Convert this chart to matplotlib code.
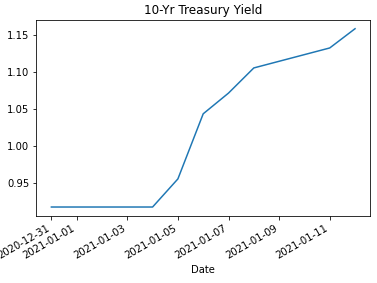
import matplotlib
matplotlib.use('Agg')
import matplotlib.pyplot as plt
import pandas as pd

# 10-year yields
dates = pd.to_datetime(['2020-12-31', '2021-01-04', '2021-01-05', '2021-01-06',
                        '2021-01-07', '2021-01-08', '2021-01-11', '2021-01-12'])
yields = [0.917, 0.917, 0.955, 1.043, 1.071, 1.105, 1.132, 1.158]

fig, ax = plt.subplots(figsize=(377 / 72, 283 / 72), dpi=72)

ax.plot(dates, yields, color='#1f77b4')
ax.set_title('10-Yr Treasury Yield')
ax.set_xlabel('Date')
fig.autofmt_xdate()
# autofmt_xdate moves the bottom, so set the layout afterwards
fig.subplots_adjust(left=0.096, right=0.982, top=0.93, bottom=0.237)

fig.savefig('out.png', dpi=72)
